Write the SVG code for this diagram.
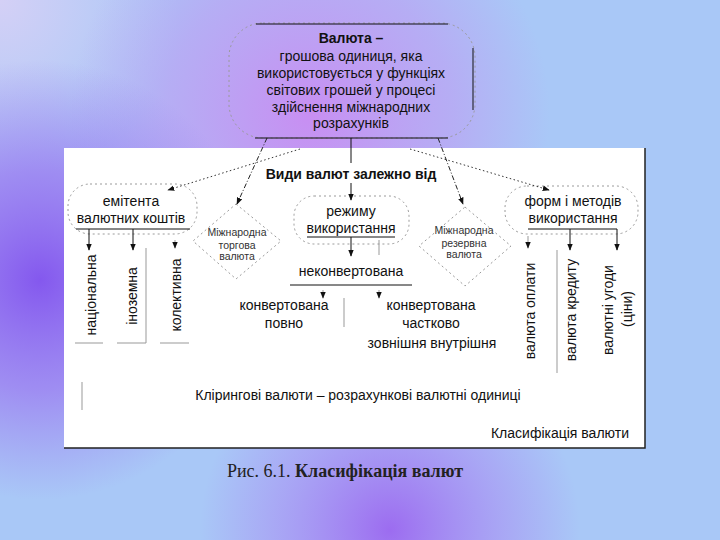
<svg xmlns="http://www.w3.org/2000/svg" width="720" height="540" viewBox="0 0 720 540">
<defs>
<radialGradient id="gL" cx="40" cy="280" r="220" gradientUnits="userSpaceOnUse">
<stop offset="0" stop-color="#8458ee" stop-opacity="1"/>
<stop offset="0.5" stop-color="#9a74f0" stop-opacity="0.7"/>
<stop offset="1" stop-color="#a07cf0" stop-opacity="0"/>
</radialGradient>
<radialGradient id="gT" cx="310" cy="115" r="240" gradientUnits="userSpaceOnUse">
<stop offset="0" stop-color="#c88ef2" stop-opacity="1"/>
<stop offset="0.6" stop-color="#c098f2" stop-opacity="0.55"/>
<stop offset="1" stop-color="#c098f2" stop-opacity="0"/>
</radialGradient>
<radialGradient id="gB" cx="390" cy="530" r="190" gradientUnits="userSpaceOnUse">
<stop offset="0" stop-color="#9c6cf0" stop-opacity="1"/>
<stop offset="0.6" stop-color="#a880f2" stop-opacity="0.45"/>
<stop offset="1" stop-color="#a880f2" stop-opacity="0"/>
</radialGradient>
<radialGradient id="gC" cx="0" cy="0" r="180" gradientUnits="userSpaceOnUse">
<stop offset="0" stop-color="#d4d0f6" stop-opacity="1"/>
<stop offset="1" stop-color="#d4d0f6" stop-opacity="0"/>
</radialGradient>
<marker id="ah" viewBox="0 0 10 10" refX="9" refY="5" markerWidth="7" markerHeight="7" orient="auto" markerUnits="userSpaceOnUse">
<path d="M0,1 L10,5 L0,9 z" fill="#111"/>
</marker>
<style>
.t{font-family:"Liberation Sans",Arial,sans-serif;fill:#111;text-anchor:middle}
.s14{font-size:14px}
.s10{font-size:10.5px;fill:#333}
.b{font-weight:bold}
.cloud{fill:none;stroke:#9a9a9a;stroke-width:1;stroke-dasharray:2 3}
.solid{stroke:#111;stroke-width:1;fill:none}
.gray{stroke:#999;stroke-width:1;fill:none}
.dot{stroke:#333;stroke-width:1;fill:none;stroke-dasharray:1.5 2.5}
.dashdot{stroke:#222;stroke-width:1;fill:none;stroke-dasharray:5 2 1 2}
</style>
</defs>
<rect x="0" y="0" width="720" height="540" fill="#a9c8f7"/>
<rect x="0" y="0" width="720" height="540" fill="url(#gC)"/>
<rect x="0" y="0" width="720" height="540" fill="url(#gT)"/>
<rect x="0" y="0" width="720" height="540" fill="url(#gL)"/>
<rect x="0" y="0" width="720" height="540" fill="url(#gB)"/>

<g id="panel">
<rect x="64" y="148" width="581" height="300" fill="#ffffff"/>
<path d="M645,148 V448 H64" stroke="#222" stroke-width="1.5" fill="none"/>
</g>

<g id="top">
<rect x="229" y="23" width="246" height="115" rx="34" class="cloud" stroke="#8a8ab0"/>
<line x1="256" y1="24" x2="448" y2="24" class="solid"/>
<line x1="255" y1="138" x2="448" y2="138" class="solid"/>
<line x1="473" y1="48" x2="473" y2="110" class="solid" stroke="#555"/>
<text class="t s14 b" x="351" y="43">Валюта –</text>
<text class="t s14" x="351" y="61">грошова одиниця, яка</text>
<text class="t s14" x="351" y="78">використовується у функціях</text>
<text class="t s14" x="351" y="95">світових грошей у процесі</text>
<text class="t s14" x="351" y="112">здійснення міжнародних</text>
<text class="t s14" x="351" y="128">розрахунків</text>
</g>

<g id="title">
<text class="t s14 b" x="351" y="179">Види валют залежно від</text>
</g>

<g id="emitent">
<rect x="68" y="184" width="129" height="50" rx="22" class="cloud"/>
<text class="t s14" x="131" y="206">емітента</text>
<text class="t s14" x="131" y="223">валютних коштів</text>
</g>

<g id="torg">
<path d="M236,204 L281,241 L236,279 L193,241 Z" class="cloud" stroke-linejoin="round"/>
<text class="t s10" x="237" y="236">Міжнародна</text>
<text class="t s10" x="237" y="249">торгова</text>
<text class="t s10" x="237" y="260">валюта</text>
</g>

<g id="rezhym">
<rect x="294" y="196" width="115" height="48" rx="20" class="cloud"/>
<text class="t s14" x="351" y="216">режиму</text>
<text class="t s14" x="351" y="233">використання</text>
</g>

<g id="rezerv">
<path d="M465,207 L511,246 L465,286 L419,246 Z" class="cloud" stroke-linejoin="round"/>
<text class="t s10" x="464" y="234">Міжнародна</text>
<text class="t s10" x="464" y="247">резервна</text>
<text class="t s10" x="464" y="258">валюта</text>
</g>

<g id="form">
<rect x="505" y="186" width="133" height="48" rx="22" class="cloud"/>
<text class="t s14" x="573" y="206">форм і методів</text>
<text class="t s14" x="573" y="223">використання</text>
</g>

<g id="leaves-left">
<text class="t s14" transform="translate(96,295) rotate(-90)">національна</text>
<text class="t s14" transform="translate(137,296) rotate(-90)">іноземна</text>
<text class="t s14" transform="translate(181,295) rotate(-90)">колективна</text>
</g>

<g id="nekonv">
<text class="t s14" x="351" y="276">неконвертована</text>
</g>

<g id="konv">
<text class="t s14" x="284" y="310">конвертована</text>
<text class="t s14" x="284" y="328">повно</text>
<text class="t s14" x="431" y="310">конвертована</text>
<text class="t s14" x="431" y="328">частково</text>
<text class="t s14" x="432" y="348">зовнішня  внутрішня</text>
</g>

<g id="leaves-right">
<text class="t s14" transform="translate(535,311) rotate(-90)">валюта оплати</text>
<text class="t s14" transform="translate(576,310) rotate(-90)">валюта кредиту</text>
<text class="t s14" transform="translate(613,310) rotate(-90)">валютні угоди</text>
<text class="t s14" transform="translate(632,309) rotate(-90)">(ціни)</text>
</g>

<g id="kliring">
<text class="t s14" x="358" y="400">Клірингові валюти – розрахункові валютні одиниці</text>
</g>

<g id="klas">
<text class="t s14" x="629" y="438" style="text-anchor:end">Класифікація валюти</text>
</g>

<g id="caption">
<text x="345" y="477" style="font-family:'Liberation Serif','Times New Roman',serif;font-size:18px;fill:#222;text-anchor:middle">Рис. 6.1. <tspan font-weight="bold">Класифікація валют</tspan></text>
</g>

<g id="connectors">
<line x1="351" y1="138" x2="351" y2="163" class="solid"/>
<line x1="351" y1="183" x2="351" y2="200" class="solid" marker-end="url(#ah)"/>
<line x1="267" y1="138" x2="237" y2="204" class="dashdot" marker-end="url(#ah)"/>
<line x1="438" y1="138" x2="463" y2="204" class="dashdot" marker-end="url(#ah)"/>
<line x1="300" y1="149" x2="168" y2="190" class="dot" marker-end="url(#ah)"/>
<line x1="410" y1="149" x2="549" y2="190" class="dot" marker-end="url(#ah)"/>

<line x1="76" y1="229" x2="190" y2="229" class="solid"/>
<line x1="89" y1="229" x2="89" y2="250" class="solid" marker-end="url(#ah)"/>
<line x1="133" y1="229" x2="133" y2="250" class="solid" marker-end="url(#ah)"/>
<line x1="175" y1="240" x2="175" y2="248" class="gray" marker-end="url(#ah)"/>
<line x1="146" y1="248" x2="146" y2="343" class="gray"/>
<line x1="75" y1="343" x2="103" y2="343" class="gray"/>
<line x1="117" y1="343" x2="146" y2="343" class="gray"/>
<line x1="160" y1="343" x2="189" y2="343" class="gray"/>

<line x1="307" y1="237" x2="395" y2="237" class="solid"/>
<line x1="351" y1="237" x2="351" y2="256" class="solid" marker-end="url(#ah)"/>
<line x1="379" y1="240" x2="379" y2="255" class="gray"/>
<line x1="290" y1="285" x2="412" y2="285" class="solid"/>
<line x1="323" y1="290" x2="323" y2="298" class="gray" marker-end="url(#ah)"/>
<line x1="379" y1="290" x2="379" y2="298" class="gray" marker-end="url(#ah)"/>
<line x1="344" y1="298" x2="344" y2="327" class="gray"/>

<line x1="528" y1="229" x2="617" y2="229" class="solid"/>
<line x1="528" y1="236" x2="528" y2="248" class="gray" marker-end="url(#ah)"/>
<line x1="570" y1="229" x2="570" y2="250" class="solid" marker-end="url(#ah)"/>
<line x1="617" y1="229" x2="617" y2="250" class="solid" marker-end="url(#ah)"/>
<line x1="557" y1="250" x2="557" y2="373" class="gray"/>

<line x1="82" y1="382" x2="82" y2="410" class="gray" stroke="#bbb"/>
</g>
</svg>
